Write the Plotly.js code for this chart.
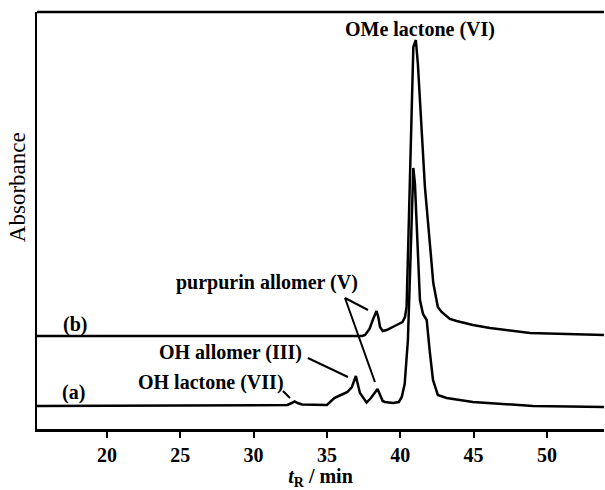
<!DOCTYPE html>
<html>
<head>
<meta charset="utf-8">
<script src="https://cdn.plot.ly/plotly-3.0.1.min.js"></script>
<style>html,body{margin:0;padding:0;background:#fff;}#chart{width:605px;height:490px;}</style>
</head>
<body>
<div id="chart"></div>
<script>
// Trace (a)
const timeA = [15.23, 32.3, 32.6, 32.8, 33.0, 33.3, 35.0, 35.5, 36.1, 36.4, 36.7, 36.97, 37.25, 37.5, 37.7, 38.0, 38.45, 38.8, 38.95, 39.5, 39.9, 40.1, 40.3, 40.52, 40.7, 40.89, 41.0, 41.15, 41.34, 41.55, 41.8, 42.0, 42.23, 42.56, 43.16, 44.95, 49.05, 53.89];
const absA  = [23, 24, 26, 27.5, 26, 24.5, 24, 31, 35, 37, 42, 53, 36, 30, 26.5, 31, 40, 28, 27, 26, 27, 32, 45, 89, 175, 261, 245, 195, 129, 115, 109, 79, 49, 34, 31, 27, 23, 22];
// Trace (b)
const timeB = [15.23, 37.4, 37.6, 37.9, 38.15, 38.38, 38.5, 38.62, 38.8, 39.07, 39.75, 40.15, 40.32, 40.43, 40.55, 40.71, 40.89, 41.06, 41.2, 41.34, 41.68, 42.02, 42.25, 42.56, 42.82, 43.38, 43.84, 44.95, 46.11, 48.84, 51.57, 53.89];
const absB  = [93, 93, 94, 100, 110, 118, 112, 102, 98, 99, 104, 107, 112, 122, 189, 289, 382, 389, 365, 329, 242, 185, 146, 122, 117, 110, 108, 104, 101, 96, 95, 94];
// Axis ticks
const tickVals = [20, 25, 30, 35, 40, 45, 50];
const tickText = ["20", "25", "30", "35", "40", "45", "50"];
// Labels
const peakLabels = ["OMe lactone (VI)", "purpurin allomer (V)", "OH allomer (III)", "OH lactone (VII)"];
const traceLabels = ["(b)", "(a)"];

const serif = "Liberation Serif, Times New Roman, serif";
const lineStyle = {color: "#000", width: 2.5};

const traces = [
  {x: timeA, y: absA, type: "scatter", mode: "lines", line: lineStyle, hoverinfo: "skip"},
  {x: timeB, y: absB, type: "scatter", mode: "lines", line: lineStyle, hoverinfo: "skip"}
];

function ann(text, x, y) {
  return {text: "<b>" + text + "</b>", x: x, y: y, xref: "x", yref: "y", showarrow: false,
          font: {family: serif, size: 20, color: "#000"}, xanchor: "center", yanchor: "middle"};
}

const layout = {
  width: 605, height: 490,
  margin: {l: 37, r: 1, t: 12, b: 61},
  paper_bgcolor: "#fff", plot_bgcolor: "#fff",
  showlegend: false,
  xaxis: {
    range: [15.23, 53.89], showgrid: false, zeroline: false,
    showline: true, linecolor: "#000", linewidth: 2.5, mirror: false,
    ticks: "outside", ticklen: 6, tickwidth: 2, tickcolor: "#000",
    tickvals: tickVals, ticktext: tickText.map(t => "<b>" + t + "</b>"),
    tickfont: {family: serif, size: 20, color: "#000"},
    title: {text: "<b><i>t</i><sub>R</sub> / min</b>", font: {family: serif, size: 20, color: "#000"}, standoff: 8}
  },
  yaxis: {
    range: [0, 417], showgrid: false, zeroline: false,
    showline: true, linecolor: "#000", linewidth: 2.5, mirror: false,
    showticklabels: false, ticks: ""
  },
  annotations: [
    ann(peakLabels[0], 41.34, 400),
    ann(peakLabels[1], 30.91, 147),
    ann(peakLabels[2], 28.39, 77),
    ann(peakLabels[3], 27.09, 47),
    ann(traceLabels[0], 17.82, 105),
    ann(traceLabels[1], 17.75, 37),
    {text: "Absorbance", xref: "paper", yref: "paper", x: 0, y: 0.58, xshift: -20,
     showarrow: false, textangle: -90, font: {family: serif, size: 23, color: "#000"},
     xanchor: "center", yanchor: "middle"}
  ],
  shapes: [
    {type: "line", xref: "paper", yref: "paper", x0: 0, y0: 1, x1: 1, y1: 1, line: {color: "#000", width: 2.5}},
    {type: "line", xref: "x", yref: "y", x0: 36.23, y0: 131, x1: 37.8, y1: 119, line: {color: "#000", width: 2}},
    {type: "line", xref: "x", yref: "y", x0: 36.23, y0: 131, x1: 38.27, y1: 47, line: {color: "#000", width: 2}},
    {type: "line", xref: "x", yref: "y", x0: 33.7, y0: 71, x1: 36.43, y1: 52, line: {color: "#000", width: 2}},
    {type: "line", xref: "x", yref: "y", x0: 32.0, y0: 38, x1: 32.48, y1: 31, line: {color: "#000", width: 2}}
  ]
};

Plotly.newPlot("chart", traces, layout, {staticPlot: true, displayModeBar: false});
</script>
</body>
</html>
